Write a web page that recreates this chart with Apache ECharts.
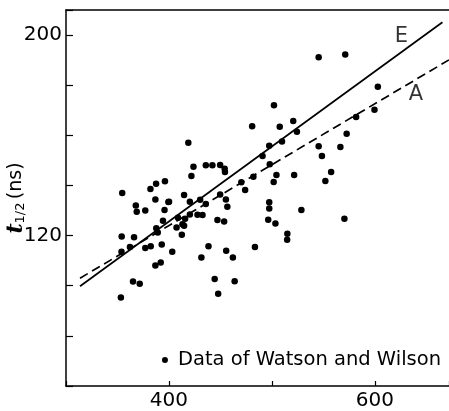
<!DOCTYPE html>
<html>
<head>
<meta charset="utf-8">
<script src="https://cdn.jsdelivr.net/npm/echarts@6/dist/echarts.min.js"></script>
<style>
html,body{margin:0;padding:0;background:#fff;}
#main{width:449px;height:411px;}
</style>
</head>
<body>
<div id="main"></div>
<script>
// measured points (x, t1/2 in ns)
var watsonWilson = [
  [354.6,137.0],[382.0,138.6],[387.5,140.7],[396.1,141.7],[386.8,134.4],[399.4,133.4],
  [367.8,132.0],[368.7,129.5],[377.0,130.0],[395.7,130.2],[394.2,125.9],[387.7,122.9],
  [389.1,121.2],[418.8,157.0],[423.8,147.5],[421.8,143.8],[435.8,148.1],[442.2,148.1],
  [449.7,148.2],[454.1,146.7],[454.4,145.4],[400.1,133.5],[414.7,136.2],[420.3,133.5],
  [430.3,134.3],[435.8,132.6],[449.7,136.4],[455.3,134.4],[456.7,131.5],[474.0,138.2],
  [470.3,141.3],[482.0,143.5],[490.9,151.8],[497.4,155.8],[497.9,148.5],[480.8,163.6],
  [497.4,133.3],[497.4,130.8],[496.4,126.3],[503.4,124.8],[408.8,127.1],[415.7,126.7],
  [420.3,128.4],[427.7,128.3],[432.6,128.2],[413.1,124.5],[447.1,126.2],[453.6,125.6],
  [407.4,123.2],[414.7,123.9],[412.5,120.3],[354.1,119.6],[366.1,119.3],[353.9,113.6],
  [362.1,115.5],[377.0,115.1],[382.3,115.8],[393.0,116.4],[403.2,113.6],[386.8,108.1],
  [392.0,109.3],[365.1,101.7],[371.6,100.8],[353.3,95.3],[431.5,111.3],[438.4,115.8],
  [455.6,114.0],[462.1,111.3],[483.5,115.5],[444.4,102.7],[463.8,101.8],[447.8,96.8],
  [545.4,191.2],[571.2,192.2],[502.0,172.0],[507.6,163.4],[520.7,165.7],[524.3,161.4],
  [602.9,179.4],[599.6,170.2],[581.8,167.3],[572.6,160.6],[509.8,157.5],[545.4,155.6],
  [548.6,151.8],[566.5,155.3],[504.4,144.2],[501.7,141.4],[521.6,144.2],[551.9,141.8],
  [557.5,145.4],[528.6,130.2],[515.0,120.7],[514.8,118.3],[570.4,126.7]
];
var lineE = [[313.6,99.8],[665.6,205.1]];
var lineA = [[313.6,103.0],[672,190.1]];
var curveLabels = [['E',625.7,199.4],['A',639.8,176.4]];
var xTickLabels = [400,600];
var yTickLabels = [120,200];

var chart = echarts.init(document.getElementById('main'), null, {renderer:'canvas'});
var font = 'DejaVu Sans';

var option = {
  animation:false,
  backgroundColor:'#fff',
  grid:{left:66,top:10,right:0,bottom:25,containLabel:false,outerBoundsMode:'none'},
  legend:{
    right:3, top:345,
    data:[{name:'Data of Watson and Wilson', icon:'circle'}],
    itemWidth:6, itemHeight:6, itemGap:0,
    itemStyle:{opacity:1},
    textStyle:{fontFamily:font,fontSize:19.5,color:'#000',padding:[0,0,0,5]}
  },
  xAxis:[{
    type:'value', min:300, max:672, interval:100,
    axisLine:{show:true,onZero:false,lineStyle:{color:'#000',width:1.5}},
    axisTick:{show:true,inside:true,length:5,lineStyle:{color:'#000',width:1.2}},
    splitLine:{show:false},
    axisLabel:{
      fontFamily:font,fontSize:20,color:'#000',margin:5,
      formatter:function(v){return xTickLabels.indexOf(v)>=0 ? String(v) : '';}
    }
  },{
    type:'value', position:'top', min:300, max:672,
    axisLine:{show:true,lineStyle:{color:'#000',width:1.5}},
    axisTick:{show:false}, axisLabel:{show:false}, splitLine:{show:false}
  }],
  yAxis:{
    type:'value', min:60, max:210, interval:20,
    axisLine:{show:true,onZero:false,lineStyle:{color:'#000',width:1.5}},
    axisTick:{show:true,inside:true,length:7,lineStyle:{color:'#000',width:1.2}},
    splitLine:{show:false},
    axisLabel:{
      fontFamily:font,fontSize:20,color:'#000',margin:4,
      formatter:function(v){return yTickLabels.indexOf(v)>=0 ? String(v) : '';}
    },
    name:'{t|t}{s|1/2} {n|(ns)}',
    nameLocation:'middle', nameRotate:90, nameGap:39, nameMoveOverlap:false,
    nameTextStyle:{
      color:'#000',
      rich:{
        t:{fontFamily:'DejaVu Serif',fontStyle:'italic',fontWeight:'bold',fontSize:22,color:'#000'},
        s:{fontFamily:font,fontSize:13,color:'#000',verticalAlign:'bottom',padding:[8,0,0,0]},
        n:{fontFamily:font,fontSize:19,color:'#000'}
      }
    }
  },
  series:[
    {
      name:'Data of Watson and Wilson', type:'scatter',
      data:watsonWilson, symbol:'circle', symbolSize:6.5,
      itemStyle:{color:'#000',opacity:1}
    },
    {
      name:'E', type:'line', data:lineE, showSymbol:false,
      lineStyle:{color:'#000',width:1.7}
    },
    {
      name:'A', type:'line', data:lineA, showSymbol:false,
      lineStyle:{color:'#000',width:1.7,type:[9,5]}
    },
    {
      name:'labels', type:'scatter', symbolSize:0,
      data:curveLabels.map(function(d){return {name:d[0],value:[d[1],d[2]]};}),
      label:{show:true,position:'inside',formatter:'{b}',
        fontFamily:font,fontSize:21,color:'#000'}
    }
  ]
};
chart.setOption(option);
</script>
</body>
</html>
